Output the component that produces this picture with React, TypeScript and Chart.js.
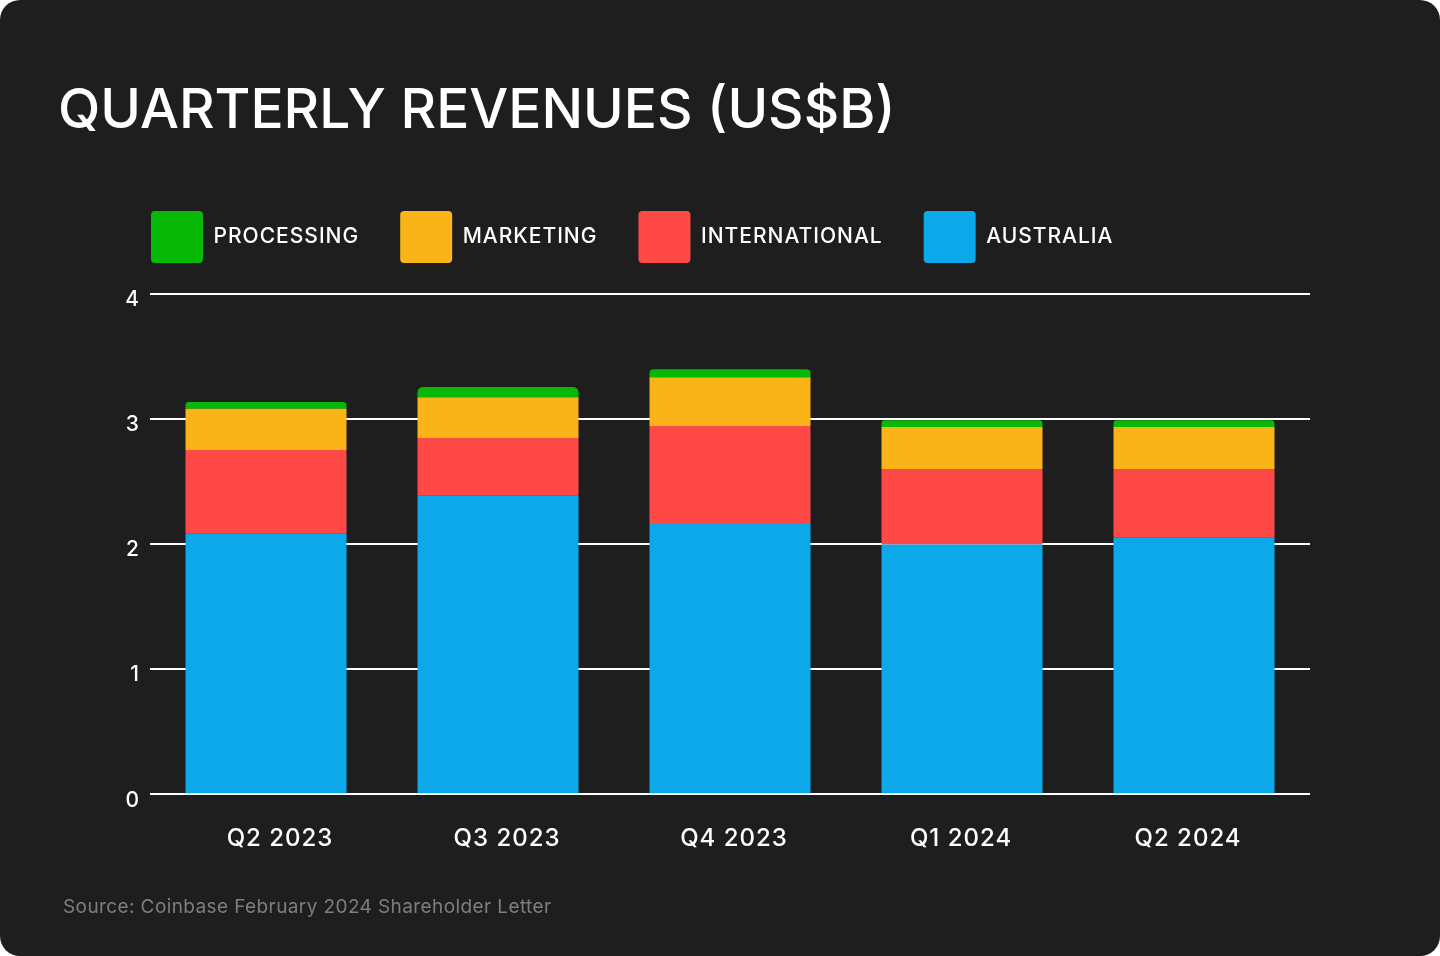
import React, { useEffect, useRef } from "react";
import { Chart, registerables } from "chart.js";

Chart.register(...registerables);

const quarters = ["Q2 2023", "Q3 2023", "Q4 2023", "Q1 2024", "Q2 2024"];
const australia = [2.086, 2.386, 2.168, 1.996, 2.054];
const international = [0.666, 0.462, 0.776, 0.604, 0.546];
const marketing = [0.33, 0.326, 0.39, 0.336, 0.336];
const processing = [0.054, 0.082, 0.064, 0.054, 0.054];
const seriesNames = ["AUSTRALIA", "INTERNATIONAL", "MARKETING", "PROCESSING"];
const seriesColors = ["#0DA8EA", "#FF4947", "#FAB418", "#07B807"];

const FONT = "Inter, 'Noto Sans', sans-serif";

const spacingPlugin = {
  id: "letterSpacing",
  beforeLayout(chart: any) {
    chart.ctx.letterSpacing = "1px";
  },
  beforeDraw(chart: any) {
    chart.ctx.letterSpacing = "1px";
  },
};

export default function App() {
  const canvasRef = useRef<HTMLCanvasElement | null>(null);

  useEffect(() => {
    if (!canvasRef.current) return;
    const values = [australia, international, marketing, processing];
    const chart = new Chart(canvasRef.current, {
      type: "bar",
      data: {
        labels: quarters,
        datasets: values.map((v, i) => ({
          label: seriesNames[i],
          data: v,
          backgroundColor: seriesColors[i],
          borderWidth: 0,
          borderRadius: 6,
          borderSkipped: "start",
          barPercentage: 0.694,
          categoryPercentage: 1,
        })),
      },
      plugins: [spacingPlugin],
      options: {
        responsive: false,
        animation: false,
        devicePixelRatio: 1,
        layout: { padding: { left: 110, right: 130, top: 170, bottom: 73 } },
        plugins: {
          tooltip: { enabled: false },
          legend: {
            position: "top",
            align: "start",
            reverse: true,
            labels: {
              boxWidth: 52,
              boxHeight: 52,
              padding: 41,
              color: "#FFFFFF",
              useBorderRadius: true,
              borderRadius: 4,
              font: { family: FONT, size: 21, weight: "500" },
            },
          },
        },
        scales: {
          x: {
            display: false,
            stacked: true,
          },
          x2: {
            type: "linear",
            position: "bottom",
            offset: false,
            min: -0.5727,
            max: 4.5374,
            grid: { display: false, drawTicks: false, offset: false },
            border: { display: false },
            ticks: {
              stepSize: 1,
              includeBounds: false,
              autoSkip: false,
              maxRotation: 0,
              padding: 30,
              color: "#FFFFFF",
              font: { family: FONT, size: 24, weight: "500" },
              callback: (v: any) => quarters[v] ?? "",
            },
          },
          y: {
            stacked: true,
            min: 0,
            max: 4.168,
            grid: { color: "#FFFFFF", lineWidth: 2, drawTicks: false },
            border: { display: false },
            afterFit: (scale: any) => {
              scale.width = 40;
            },
            ticks: {
              stepSize: 1,
              includeBounds: false,
              padding: 10,
              labelOffset: 6,
              color: "#FFFFFF",
              font: { family: FONT, size: 21, weight: "500" },
            },
          },
        },
      } as any,
    });
    return () => chart.destroy();
  }, []);

  return (
    <div
      style={{
        position: "absolute",
        left: 0,
        top: 0,
        width: 1440,
        height: 956,
        background: "#FFFFFF",
      }}
    >
      <div
        style={{
          position: "absolute",
          left: 0,
          top: 0,
          width: 1440,
          height: 956,
          borderRadius: 20,
          background: "#1E1E1E",
          overflow: "hidden",
        }}
      >
        <canvas
          ref={canvasRef}
          width={1440}
          height={956}
          style={{ position: "absolute", left: 0, top: 0, width: 1440, height: 956 }}
        />
        <div
          style={{
            position: "absolute",
            left: 58,
            top: 81,
            fontFamily: FONT,
            fontWeight: 500,
            fontSize: 55,
            lineHeight: 1,
            color: "#FFFFFF",
            whiteSpace: "nowrap",
          }}
        >
          QUARTERLY REVENUES (US$B)
        </div>
        <div
          style={{
            position: "absolute",
            left: 63,
            top: 897,
            fontFamily: FONT,
            fontWeight: 400,
            fontSize: 19,
            letterSpacing: "0.4px",
            lineHeight: 1,
            color: "#7E7E7E",
            whiteSpace: "nowrap",
          }}
        >
          Source: Coinbase February 2024 Shareholder Letter
        </div>
      </div>
    </div>
  );
}
